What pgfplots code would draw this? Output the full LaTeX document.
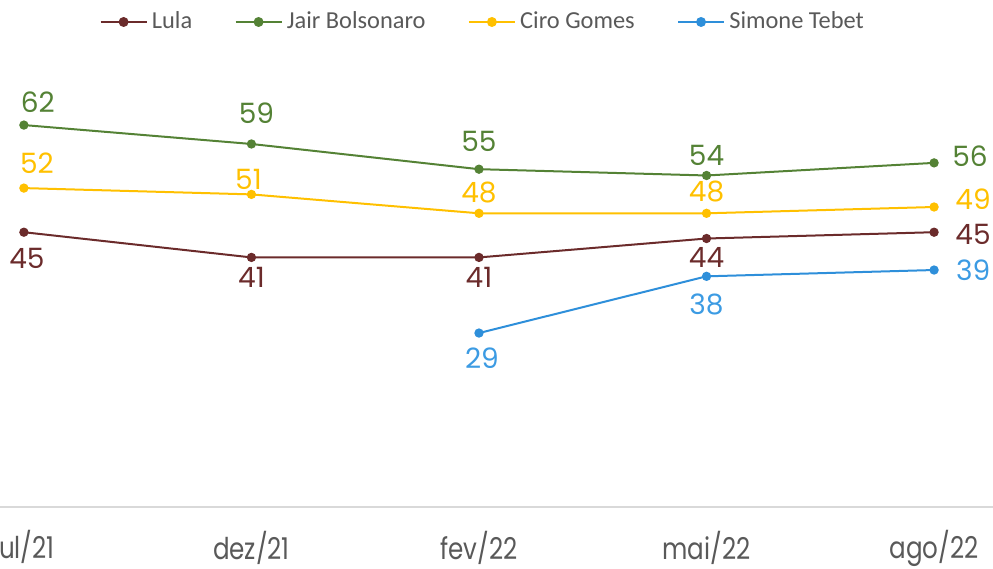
\documentclass[border=0pt]{standalone}
\usepackage{fontspec}
\setmainfont{Poppins}
\newfontfamily\legfont{Carlito}
\usepackage{pgfplots}
\usepackage{pgfplotstable}
\pgfplotsset{compat=1.18}

\definecolor{lula}{HTML}{6B2B2B}
\definecolor{bolso}{HTML}{548235}
\definecolor{ciro}{HTML}{FFC000}
\definecolor{tebet}{HTML}{2E8FDA}
\definecolor{tebetlbl}{HTML}{3C9BE3}
\definecolor{axisgray}{HTML}{D9D9D9}
\definecolor{txtgray}{HTML}{595959}

% x y dx dy  (dx, dy: label offset in pt)
\pgfplotstableread{
x y dx dy
0 45 1.5 -13
1 41 0 -10
2 41 0 -10
3 44 0 -9.5
4 45 19.5 -1
}\lula
\pgfplotstableread{
x y dx dy
0 62 7 11.5
1 59 2.5 15.5
2 55 0 14
3 54 0 10
4 56 18 3.5
}\bolso
\pgfplotstableread{
x y dx dy
0 52 6.5 12.5
1 51 -1.5 7.5
2 48 0 10.5
3 48 0 11
4 49 19.5 4
}\ciro
\pgfplotstableread{
x y dx dy
2 29 1.5 -12.5
3 38 0 -14
4 39 19.5 0
}\tebet

\begin{document}
\begin{tikzpicture}
\begin{axis}[
    name=ax,
    scale only axis,
    width=496.5pt, height=233.5pt,
    xmin=-0.105, xmax=4.259,
    ymin=1.4, ymax=75.5,
    clip=false,
    axis y line=none,
    axis x line*=bottom,
    x axis line style={draw=axisgray, line width=1.2pt, -},
    xtick={0,1,2,3,4},
    xticklabels={
      {\scalebox{0.82}[1]{jul/21}},
      {\scalebox{0.82}[1]{dez/21}},
      {\scalebox{0.82}[1]{fev/22}},
      {\scalebox{0.82}[1]{mai/22}},
      {\scalebox{0.82}[1]{ago/22}}},
    xtick style={draw=none},
    xticklabel style={anchor=center, yshift=-20.5pt, text=txtgray,
      font=\fontsize{15}{18}\selectfont},
    /pgf/number format/assume math mode=true,
    nodes near coords,
    nodes near coords align=center,
    visualization depends on={\thisrow{dx} \as \dx},
    visualization depends on={\thisrow{dy} \as \dy},
    every node near coord/.append style={anchor=center, xshift=\dx pt,
      yshift=\dy pt, font=\fontsize{14}{16}\selectfont},
    legend columns=4,
    legend style={draw=none, fill=none, at={(0.487,1)}, anchor=center,
      yshift=9pt, text=txtgray, font=\legfont\fontsize{12.2}{14}\selectfont,
      /tikz/every even column/.append style={column sep=19pt}},
    legend image code/.code={
      \draw[mark repeat=2, mark phase=2, #1, line width=1.3pt]
        plot coordinates {(0pt,0pt) (11.5pt,0pt) (23pt,0pt)};},
    every axis plot/.append style={line width=1pt, mark=*, mark size=1.8pt},
]
\addplot[color=lula, every node near coord/.append style={text=lula}]
  table[x=x, y=y] {\lula};
\addlegendentry{Lula}
\addplot[color=bolso, every node near coord/.append style={text=bolso}]
  table[x=x, y=y] {\bolso};
\addlegendentry{Jair Bolsonaro}
\addplot[color=ciro, every node near coord/.append style={text=ciro}]
  table[x=x, y=y] {\ciro};
\addlegendentry{Ciro Gomes}
\addplot[color=tebet, every node near coord/.append style={text=tebetlbl}]
  table[x=x, y=y] {\tebet};
\addlegendentry{Simone Tebet}
\end{axis}
\pgfresetboundingbox
\useasboundingbox ([yshift=-31pt]ax.south west) rectangle ([yshift=20pt]ax.north east);
\end{tikzpicture}
\end{document}
